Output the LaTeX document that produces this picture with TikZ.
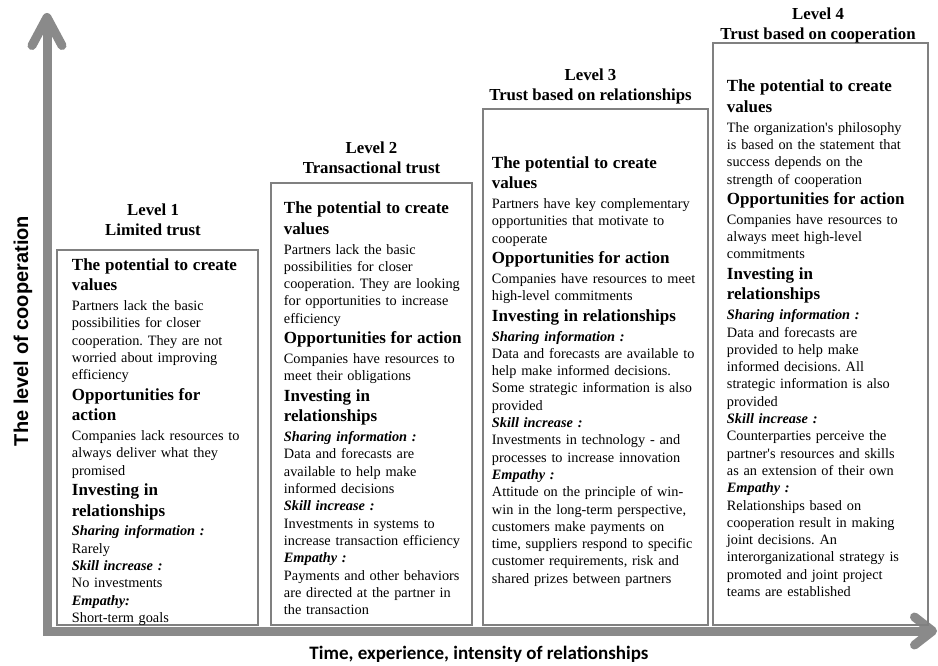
\documentclass[tikz,border=0pt]{standalone}
\usepackage{fontspec}
\setmainfont{Liberation Serif}
\newfontfamily\arialfont{Liberation Sans}
\newfontfamily\calibrifont{Carlito}
\usetikzlibrary{arrows.meta}
\setlength{\parindent}{0pt}
\frenchspacing
\definecolor{axisgray}{RGB}{138,138,138}
\definecolor{boxgray}{RGB}{128,128,128}
\newcommand{\boxhead}[1]{\par{\fontsize{17}{20.5}\selectfont\bfseries #1\par}\vspace{2.5pt}}
\newcommand{\boxsub}[1]{\par{\bfseries\itshape #1\par}}
\tikzstyle{levelbox}=[draw=boxgray,line width=2.5pt,rectangle,inner sep=0pt]
\tikzstyle{boxtext}=[anchor=west,text width=240pt,align=left,inner sep=0pt,font=\fontsize{14.3}{17.3}\selectfont]
\tikzstyle{levellabel}=[align=center,font=\fontsize{16.8}{20}\selectfont\bfseries]
\tikzstyle{axis}=[draw=axisgray,line width=9pt]

\begin{document}
\begin{tikzpicture}[x=1pt,y=-1pt]
    \useasboundingbox (0,0) rectangle (938,666);
    % axes
    \coordinate (origin) at (47,631);
    \coordinate (ytip) at (47,13);
    \coordinate (xtip) at (937,631);
    \draw[axis,{Straight Barb[length=28pt,width=30pt,round]}-{Straight Barb[length=18pt,width=28pt,round]}] (ytip) -- (origin) -- (xtip);
    \node[rotate=90,font=\arialfont\fontsize{20}{24}\selectfont\bfseries] (ylab) at (23,331) {The level of cooperation};
    \node[font=\calibrifont\fontsize{19}{23}\selectfont\bfseries] (xlab) at (479,654) {Time, experience, intensity of relationships};

    % level boxes
    \node[levelbox,minimum width=201pt,minimum height=375pt] (box1) at (157.5,437.5) {};
    \node[levelbox,minimum width=201pt,minimum height=442pt] (box2) at (371.5,404) {};
    \node[levelbox,minimum width=225pt,minimum height=516pt] (box3) at (595.5,367) {};
    \node[levelbox,minimum width=215pt,minimum height=582pt] (box4) at (820.5,334) {};

    \node[levellabel] (lev1) at (153,219.5) {Level 1\\Limited trust};
    \node[levellabel] (lev2) at (371.5,158) {Level 2\\Transactional trust};
    \node[levellabel] (lev3) at (590.5,86) {Level 3\\Trust based on relationships};
    \node[levellabel] (lev4) at (818,25) {Level 4\\Trust based on cooperation};

    \node[boxtext] (text1) at ([xshift=16pt]box1.west) {%
        \boxhead{The potential to create\\values}
        Partners lack the basic\\possibilities for closer\\cooperation. They are not\\worried about improving\\efficiency
        \boxhead{Opportunities for\\action}
        Companies lack resources to\\always deliver what they\\promised
        \boxhead{Investing in\\relationships}
        \boxsub{Sharing information :}
        Rarely
        \boxsub{Skill increase :}
        No investments
        \boxsub{Empathy:}
        Short-term goals};
    \node[boxtext] (text2) at ([xshift=14pt]box2.west) {%
        \boxhead{The potential to create\\values}
        Partners lack the basic\\possibilities for closer\\cooperation. They are looking\\for opportunities to increase\\efficiency
        \boxhead{Opportunities for action}
        Companies have resources to\\meet their obligations
        \boxhead{Investing in\\relationships}
        \boxsub{Sharing information :}
        Data and forecasts are\\available to help make\\informed decisions
        \boxsub{Skill increase :}
        Investments in systems to\\increase transaction efficiency
        \boxsub{Empathy :}
        Payments and other behaviors\\are directed at the partner in\\the transaction};
    \node[boxtext] (text3) at ([xshift=10pt]box3.west) {%
        \boxhead{The potential to create\\values}
        Partners have key complementary\\opportunities that motivate to\\cooperate
        \boxhead{Opportunities for action}
        Companies have resources to meet\\high-level commitments
        \boxhead{Investing in relationships}
        \boxsub{Sharing information :}
        Data and forecasts are available to\\help make informed decisions.\\Some strategic information is also\\provided
        \boxsub{Skill increase :}
        Investments in technology - and\\processes to increase innovation
        \boxsub{Empathy :}
        Attitude on the principle of win-\\win in the long-term perspective,\\customers make payments on\\time, suppliers respond to specific\\customer requirements, risk and\\shared prizes between partners};
    \node[boxtext] (text4) at ([xshift=15pt]box4.west) {%
        \boxhead{The potential to create\\values}
        The organization\textquotesingle s philosophy\\is based on the statement that\\success depends on the\\strength of cooperation
        \boxhead{Opportunities for action}
        Companies have resources to\\always meet high-level\\commitments
        \boxhead{Investing in\\relationships}
        \boxsub{Sharing information :}
        Data and forecasts are\\provided to help make\\informed decisions. All\\strategic information is also\\provided
        \boxsub{Skill increase :}
        Counterparties perceive the\\partner\textquotesingle s resources and skills\\as an extension of their own
        \boxsub{Empathy :}
        Relationships based on\\cooperation result in making\\joint decisions. An\\interorganizational strategy is\\promoted and joint project\\teams are established};
\end{tikzpicture}
\end{document}
